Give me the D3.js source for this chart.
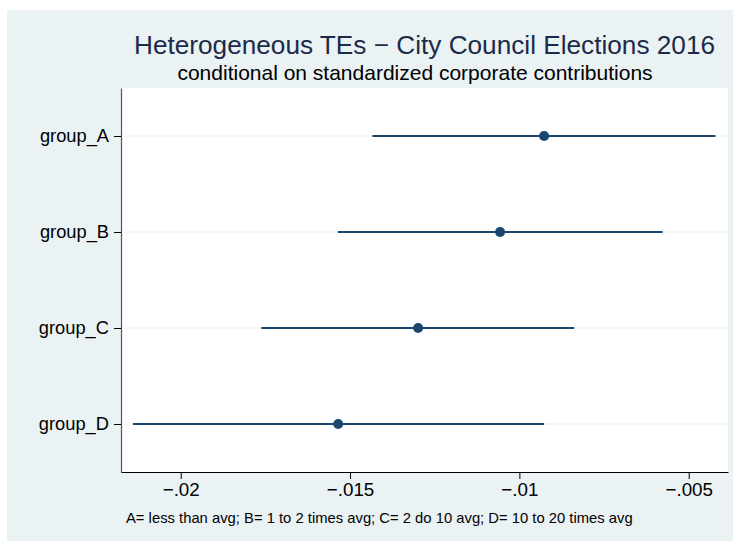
<!DOCTYPE html>
<html>
<head>
<meta charset="utf-8">
<script src="https://cdn.jsdelivr.net/npm/d3@7"></script>
<style>
  html, body { margin: 0; padding: 0; background: #ffffff; }
  svg { display: block; font-family: "Liberation Sans", Arial, Helvetica, sans-serif; }
</style>
</head>
<body>
<svg id="chart" width="733" height="541"></svg>
<script>
// Coefficient plot: point estimates with confidence intervals per group
const groups = ["group_A", "group_B", "group_C", "group_D"];
const estimates = [-0.00927, -0.01057, -0.01299, -0.01535];
const ciLower = [-0.01434, -0.01536, -0.01762, -0.02141];
const ciUpper = [-0.00421, -0.00577, -0.00838, -0.00927];
const xTickValues = [-0.02, -0.015, -0.01, -0.005];
const xExtent = [-0.021763, -0.00384];

const titleText = "Heterogeneous TEs \u2212 City Council Elections 2016";
const subtitleText = "conditional on standardized corporate contributions";
const noteText = "A= less than avg; B= 1 to 2 times avg; C= 2 do 10 avg; D= 10 to 20 times avg";

const W = 733, H = 541;
const plot = { left: 121, right: 728, top: 88, bottom: 472 };
const navy = "#1a476f";
const bgColor = "#eaf2f3";

const svg = d3.select("#chart");

// outer graph region
svg.append("rect").attr("x", 7).attr("y", 10).attr("width", W - 7).attr("height", H - 10)
  .attr("fill", bgColor);

// plot region
svg.append("rect").attr("x", plot.left).attr("y", plot.top)
  .attr("width", plot.right - plot.left).attr("height", plot.bottom - plot.top)
  .attr("fill", "#ffffff");

const x = d3.scaleLinear().domain(xExtent).range([plot.left, plot.right]);
const y = d3.scalePoint().domain(groups).range([plot.top, plot.bottom]).padding(0.5);

// horizontal grid lines at each group
svg.append("g").selectAll("line").data(groups).join("line")
  .attr("x1", plot.left).attr("x2", plot.right)
  .attr("y1", d => y(d)).attr("y2", d => y(d))
  .attr("stroke", bgColor).attr("stroke-width", 1.2);

// tick label format: -0.02 -> −.02
const fmt = v => {
  const s = String(+v.toFixed(4));
  return s.replace("-0.", "\u2212.").replace(/^0\./, ".");
};

// x axis
const xAxis = svg.append("g").attr("transform", `translate(0,${plot.bottom})`)
  .call(d3.axisBottom(x).tickValues(xTickValues).tickFormat(fmt).tickSize(7).tickSizeOuter(0).tickPadding(4));
xAxis.select(".domain").attr("stroke", "#000").attr("stroke-width", 1.2);
xAxis.selectAll(".tick line").attr("stroke", "#000");
xAxis.selectAll(".tick text").attr("font-size", 18.8).attr("fill", "#000");

// y axis
const yAxis = svg.append("g").attr("transform", `translate(${plot.left},0)`)
  .call(d3.axisLeft(y).tickSize(7).tickSizeOuter(0).tickPadding(5));
yAxis.select(".domain").attr("stroke", "#555").attr("stroke-width", 1.2);
yAxis.selectAll(".tick line").attr("stroke", "#000");
yAxis.selectAll(".tick text").attr("font-size", 18.3).attr("fill", "#000");

// confidence intervals
svg.append("g").selectAll("line").data(groups).join("line")
  .attr("x1", (d, i) => x(ciLower[i])).attr("x2", (d, i) => x(ciUpper[i]))
  .attr("y1", d => y(d)).attr("y2", d => y(d))
  .attr("stroke", navy).attr("stroke-width", 2);

// point estimates
svg.append("g").selectAll("circle").data(groups).join("circle")
  .attr("cx", (d, i) => x(estimates[i])).attr("cy", d => y(d)).attr("r", 5)
  .attr("fill", navy);

// titles
svg.append("text").attr("x", 424.5).attr("y", 54)
  .attr("text-anchor", "middle").attr("font-size", 26.2).attr("fill", "#1c2b4a")
  .text(titleText);
svg.append("text").attr("x", 415).attr("y", 80)
  .attr("text-anchor", "middle").attr("font-size", 21).attr("fill", "#000")
  .text(subtitleText);

// note
svg.append("text").attr("x", 126).attr("y", 523)
  .attr("font-size", 14.8).attr("fill", "#000")
  .text(noteText);
</script>
</body>
</html>
